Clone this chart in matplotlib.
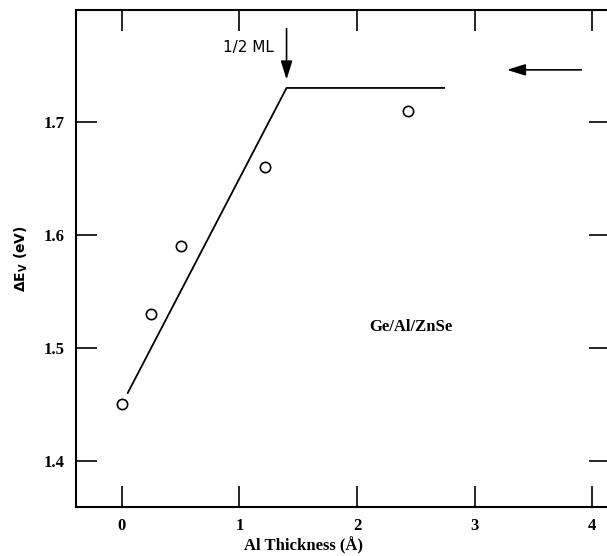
import numpy as np
import matplotlib
matplotlib.use('Agg')
import matplotlib.pyplot as plt

# measured points
thickness = [0.0, 0.25, 0.5, 1.22, 2.43]
delta_ev = [1.45, 1.53, 1.59, 1.66, 1.71]

# fitted guide line: linear rise then saturation
fit_x = [0.05, 1.40, 2.74]
fit_y = [1.46, 1.73, 1.73]

xticks = [0, 1, 2, 3, 4]
yticks = [1.4, 1.5, 1.6, 1.7]

serif = 'Liberation Serif'
plt.rcParams['mathtext.fontset'] = 'dejavusans'

fig = plt.figure(figsize=(6.07, 5.56), dpi=100)
ax = fig.add_axes([76/607, 49/556, (610-76)/607, (507-10)/556])

ax.plot(fit_x, fit_y, color='black', lw=1.3)
ax.scatter(thickness, delta_ev, s=55, facecolors='white', edgecolors='black', linewidths=1.2, zorder=3)

# 1/2 ML marker arrow
ax.annotate('', xy=(1.40, 1.735), xytext=(1.40, 1.785),
            arrowprops=dict(arrowstyle='-|>,head_width=0.25,head_length=0.8', color='black', lw=1.2, mutation_scale=14))
ax.text(1.29, 1.766, '1/2 ML', ha='right', va='center', fontsize=11, fontfamily='DejaVu Sans')

# arrow pointing toward the saturation value
ax.annotate('', xy=(3.25, 1.746), xytext=(3.93, 1.746),
            arrowprops=dict(arrowstyle='-|>,head_width=0.25,head_length=0.8', color='black', lw=1.2, mutation_scale=14))

ax.text(2.10, 1.518, 'Ge/Al/ZnSe', ha='left', va='center', fontsize=12,
        fontweight='bold', fontfamily=serif)

ax.set_xlim(-0.39, 4.15)
ax.set_ylim(1.359, 1.799)
ax.set_xticks(xticks)
ax.set_yticks(yticks)
ax.set_xticklabels([str(t) for t in xticks], fontfamily=serif, fontweight='bold', fontsize=12)
ax.set_yticklabels([f'{t:.1f}' for t in yticks], fontfamily=serif, fontweight='bold', fontsize=12)
ax.tick_params(direction='in', length=15, width=1.2, top=True, right=True, pad=8)
for sp in ax.spines.values():
    sp.set_linewidth(1.5)

ax.set_xlabel('Al Thickness (Å)', fontfamily=serif, fontweight='bold', fontsize=12)
ax.xaxis.set_label_coords((304-76)/534, -30/497)
ax.set_ylabel(r'ΔE$_\mathbf{V}$ (eV)', fontfamily='DejaVu Sans', fontweight='bold', fontsize=10)
ax.yaxis.set_label_coords(-46/534, 0.5)

fig.savefig('out.png', dpi=100)
